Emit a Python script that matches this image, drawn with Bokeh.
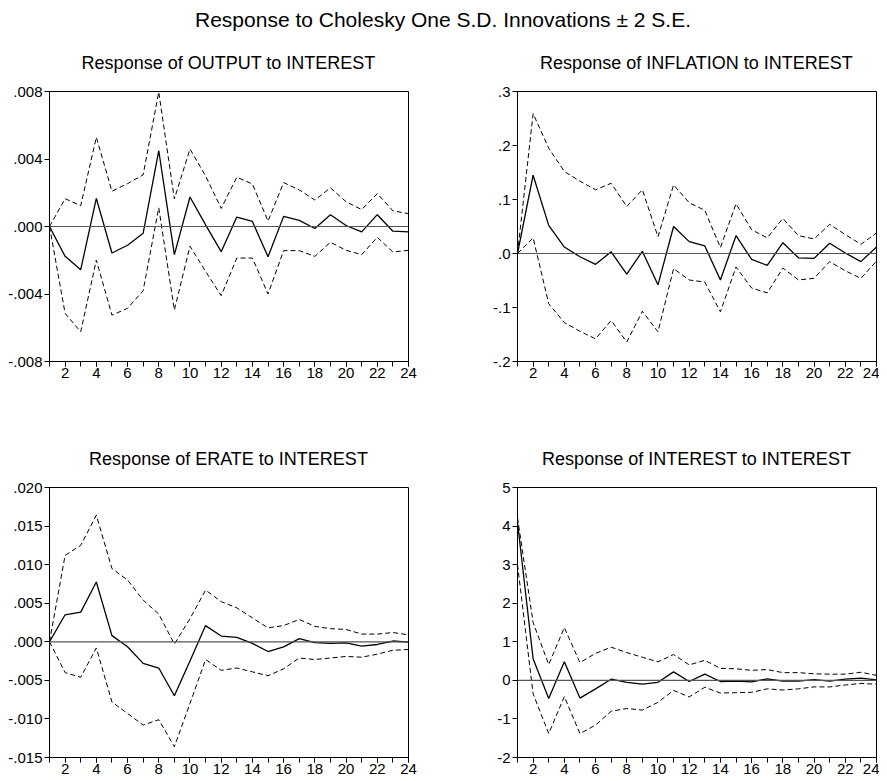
from bokeh.plotting import figure
from bokeh.layouts import column, row
from bokeh.models import Div, Range1d, FixedTicker, Span, Spacer
from bokeh.embed import file_html
from bokeh.resources import INLINE

FONT = "Liberation Sans, Arial, Helvetica, sans-serif"

MAIN_TITLE = "Response to Cholesky One S.D. Innovations \u00b1 2 S.E."

periods = list(range(1, 25))
x_major = [2, 4, 6, 8, 10, 12, 14, 16, 18, 20, 22, 24]

# ---- Response of OUTPUT to INTEREST
output_title = "Response of OUTPUT to INTEREST"
output_resp = [0, -0.00177, -0.00256, 0.00167, -0.00157, -0.00111, -0.0004, 0.00449,
               -0.00167, 0.00175, 0.0001, -0.00149, 0.00056, 0.0003, -0.00179, 0.0006,
               0.00036, -0.00012, 0.0007, 0.00006, -0.00032, 0.0007, -0.00028, -0.00032]
output_upper = [0, 0.00165, 0.00123, 0.00529, 0.00209, 0.00254, 0.00306, 0.00797,
                0.00163, 0.00459, 0.0030, 0.00107, 0.00292, 0.00252, 0.00032, 0.0026,
                0.00217, 0.00157, 0.00229, 0.00147, 0.0010, 0.00195, 0.00093, 0.00076]
output_lower = [0, -0.00515, -0.00624, -0.00199, -0.00525, -0.00485, -0.0038, 0.00111,
                -0.00495, -0.00117, -0.00266, -0.0041, -0.00187, -0.00187, -0.0040, -0.00143,
                -0.00143, -0.00177, -0.00093, -0.00141, -0.00167, -0.00064, -0.00151, -0.00141]
output_yticks = [-0.008, -0.004, 0.0, 0.004, 0.008]
output_ylabels = ["-.008", "-.004", ".000", ".004", ".008"]

# ---- Response of INFLATION to INTEREST
inflation_title = "Response of INFLATION to INTEREST"
inflation_resp = [0, 0.145, 0.052, 0.012, -0.006, -0.020, 0.003, -0.038, 0.004, -0.058,
                  0.050, 0.022, 0.014, -0.049, 0.033, -0.011, -0.022, 0.020, -0.008, -0.009,
                  0.019, 0.001, -0.015, 0.012]
inflation_upper = [0, 0.259, 0.195, 0.152, 0.134, 0.118, 0.130, 0.087, 0.118, 0.031,
                   0.127, 0.094, 0.080, 0.011, 0.092, 0.044, 0.029, 0.065, 0.033, 0.027,
                   0.054, 0.035, 0.017, 0.038]
inflation_lower = [0, 0.029, -0.093, -0.128, -0.144, -0.158, -0.124, -0.164, -0.107, -0.145,
                   -0.028, -0.049, -0.053, -0.108, -0.025, -0.064, -0.073, -0.027, -0.049, -0.046,
                   -0.015, -0.032, -0.046, -0.014]
inflation_yticks = [-0.2, -0.1, 0.0, 0.1, 0.2, 0.3]
inflation_ylabels = ["-.2", "-.1", ".0", ".1", ".2", ".3"]

# ---- Response of ERATE to INTEREST
erate_title = "Response of ERATE to INTEREST"
erate_resp = [0, 0.0035, 0.00385, 0.00775, 0.0008, -0.00065, -0.0028, -0.0034, -0.0070, -0.0025,
              0.0021, 0.00074, 0.00056, -0.0002, -0.00126, -0.00065, 0.0004, -0.0001, -0.0002,
              -0.00015, -0.00056, -0.00035, 0.0001, -0.00004]
erate_upper = [0, 0.0112, 0.0125, 0.0164, 0.0095, 0.0080, 0.0054, 0.0036, -0.0003, 0.0030,
               0.0067, 0.0052, 0.0044, 0.0031, 0.0018, 0.0021, 0.0029, 0.0020, 0.0017, 0.0016,
               0.0010, 0.0010, 0.0012, 0.0009]
erate_lower = [0, -0.0040, -0.0046, -0.0008, -0.0078, -0.0093, -0.0108, -0.0101, -0.0136, -0.0080,
               -0.0023, -0.0037, -0.0034, -0.0039, -0.0044, -0.0035, -0.0021, -0.0023, -0.0021,
               -0.0019, -0.0020, -0.0016, -0.0011, -0.0010]
erate_yticks = [-0.015, -0.010, -0.005, 0.0, 0.005, 0.010, 0.015, 0.020]
erate_ylabels = ["-.015", "-.010", "-.005", ".000", ".005", ".010", ".015", ".020"]

# ---- Response of INTEREST to INTEREST
interest_title = "Response of INTEREST to INTEREST"
interest_resp = [4.1, 0.56, -0.47, 0.48, -0.46, -0.22, 0.03, -0.05, -0.10, -0.05,
                 0.22, -0.03, 0.16, -0.03, -0.02, -0.04, 0.04, -0.02, -0.02, 0.02,
                 -0.02, 0.03, 0.06, 0.01]
interest_upper = [4.22, 1.50, 0.41, 1.37, 0.46, 0.70, 0.86, 0.72, 0.60, 0.48,
                  0.67, 0.40, 0.52, 0.31, 0.30, 0.26, 0.28, 0.20, 0.20, 0.17,
                  0.16, 0.16, 0.21, 0.13]
interest_lower = [3.0, -0.35, -1.38, -0.42, -1.38, -1.16, -0.80, -0.73, -0.77, -0.57,
                  -0.26, -0.43, -0.18, -0.33, -0.32, -0.31, -0.22, -0.25, -0.22, -0.17,
                  -0.17, -0.12, -0.08, -0.10]
interest_yticks = [-2, -1, 0, 1, 2, 3, 4, 5]
interest_ylabels = ["-2", "-1", "0", "1", "2", "3", "4", "5"]


def make_panel(resp, upper, lower, yticks, ylabels, width, height, bl, br, bt, bb):
    p = figure(width=width, height=height,
               x_range=Range1d(1, 24), y_range=Range1d(yticks[0], yticks[-1]),
               output_backend="svg", toolbar_location=None, tools="",
               min_border_left=bl, min_border_right=br,
               min_border_top=bt, min_border_bottom=bb, margin=0)
    p.grid.visible = False
    p.outline_line_color = "black"
    p.outline_line_width = 1
    p.background_fill_color = "white"
    p.border_fill_color = "white"

    p.add_layout(Span(location=0, dimension="width", line_color="#555555", line_width=1.2))

    p.line(periods, upper, line_color="black", line_width=1, line_dash="5 3")
    p.line(periods, lower, line_color="black", line_width=1, line_dash="5 3")
    p.line(periods, resp, line_color="black", line_width=1.3)

    xa = p.xaxis[0]
    xa.ticker = FixedTicker(ticks=x_major, minor_ticks=periods)
    xa.major_tick_out = 5
    xa.major_tick_in = 0
    xa.minor_tick_out = 5
    xa.minor_tick_in = 0
    xa.major_label_standoff = 1
    xa.major_label_text_font = FONT
    xa.major_label_text_font_size = "15px"
    xa.major_label_text_color = "black"
    xa.axis_line_color = "black"
    xa.major_tick_line_color = "black"
    xa.minor_tick_line_color = "black"

    ya = p.yaxis[0]
    ya.ticker = FixedTicker(ticks=yticks, minor_ticks=[])
    ya.major_label_overrides = {t: l for t, l in zip(yticks, ylabels)}
    ya.major_tick_out = 5
    ya.major_tick_in = 0
    ya.minor_tick_out = 0
    ya.major_label_standoff = 2
    ya.major_label_text_font = FONT
    ya.major_label_text_font_size = "15px"
    ya.major_label_text_color = "black"
    ya.axis_line_color = "black"
    ya.major_tick_line_color = "black"
    return p


def subtitle(text, width):
    return Div(text=text, width=width, height=22, margin=0,
               styles={"font-family": FONT, "font-size": "18px", "line-height": "22px",
                       "text-align": "center", "color": "black", "white-space": "nowrap",
                       "width": f"{width}px"})


p1 = make_panel(output_resp, output_upper, output_lower,
                output_yticks, output_ylabels, 449, 326, 49, 41, 17, 39)
p2 = make_panel(inflation_resp, inflation_upper, inflation_lower,
                inflation_yticks, inflation_ylabels, 430, 326, 68, 3, 17, 39)
p3 = make_panel(erate_resp, erate_upper, erate_lower,
                erate_yticks, erate_ylabels, 449, 311, 49, 41, 17, 24)
p4 = make_panel(interest_resp, interest_upper, interest_lower,
                interest_yticks, interest_ylabels, 430, 311, 68, 3, 17, 24)

header = Div(text=MAIN_TITLE, width=886, height=40, margin=0,
             styles={"font-family": FONT, "font-size": "21px", "line-height": "40px",
                     "text-align": "center", "color": "black", "white-space": "nowrap",
                     "width": "886px"})

sub_row1 = row(subtitle(output_title, 457), Spacer(width=60, height=22, margin=0),
               subtitle(inflation_title, 359), margin=0, spacing=0)
sub_row2 = row(subtitle(erate_title, 457), Spacer(width=60, height=22, margin=0),
               subtitle(interest_title, 359), margin=0, spacing=0)

layout = column(header,
                Spacer(width=879, height=12, margin=0),
                sub_row1,
                row(p1, p2, margin=0, spacing=0),
                Spacer(width=879, height=48, margin=0),
                sub_row2,
                row(p3, p4, margin=0, spacing=0),
                margin=0, spacing=0)

open("out.html", "w").write(file_html(layout, INLINE))
